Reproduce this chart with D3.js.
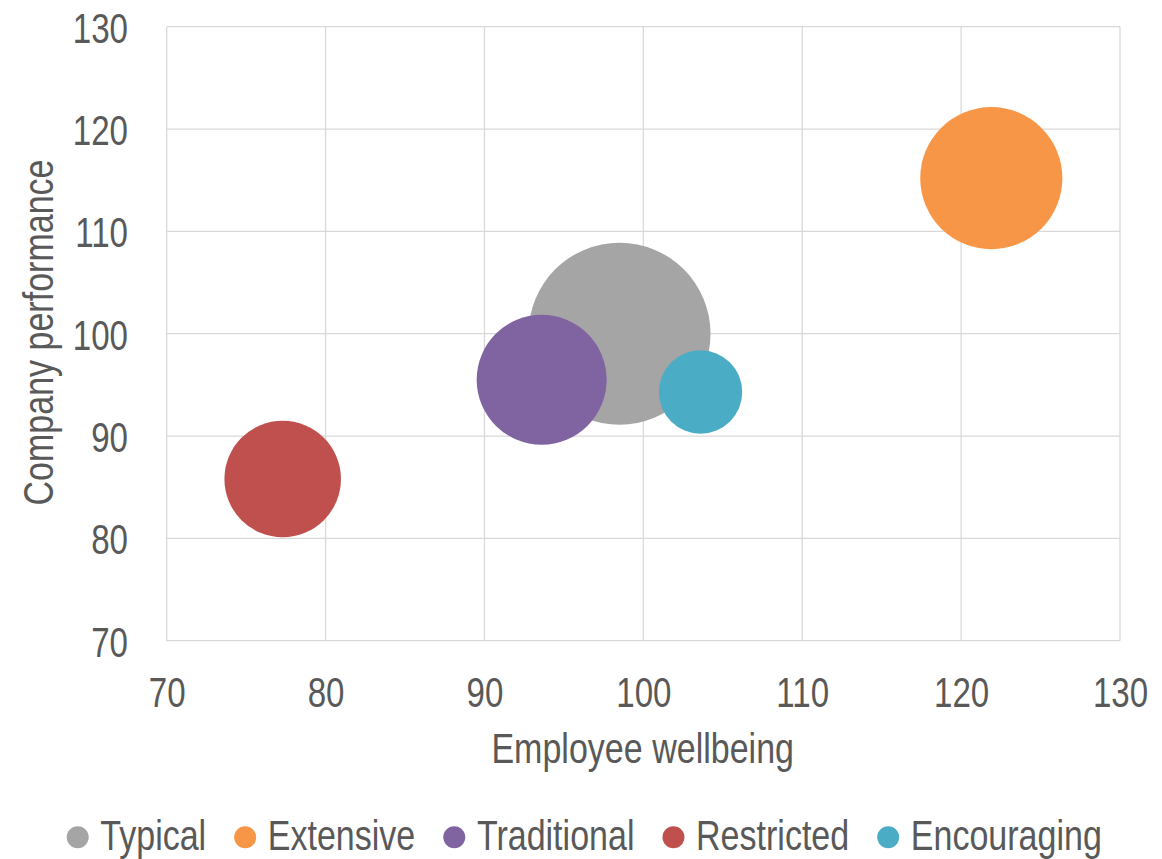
<!DOCTYPE html>
<html>
<head>
<meta charset="utf-8">
<script src="https://cdn.jsdelivr.net/npm/d3@7"></script>
<style>
  html, body { margin: 0; padding: 0; background: #fff; }
  svg { display: block; }
  text { font-family: "Liberation Sans Narrow", "Arial Narrow", "Liberation Sans", Arial, sans-serif; fill: #595959; }
</style>
</head>
<body>
<svg id="chart" width="1162" height="859"></svg>
<script>
// ---- data ----
const categories = ["Typical", "Extensive", "Traditional", "Restricted", "Encouraging"];
const wellbeing   = [98.5, 121.9, 93.6, 77.3, 103.6];
const performance = [100.0, 115.2, 95.5, 85.8, 94.3];
const bubbleSize  = [100, 61, 51, 41, 21];
const colors      = ["#A5A5A5", "#F79646", "#8064A2", "#C0504D", "#4BACC6"];
const xTicks = [70, 80, 90, 100, 110, 120, 130];
const yTicks = [70, 80, 90, 100, 110, 120, 130];
const xTitle = "Employee wellbeing";
const yTitle = "Company performance";

// ---- layout ----
const plot = { left: 166.7, right: 1120, top: 26.7, bottom: 640.7 };
const fontSize = 42, tickFont = 43;
const textSqueeze = 0.81, digitSqueeze = 0.77;

// condense text (narrow font substitute) while keeping it real text
function squeeze(sel, f) {
  sel.each(function () {
    const w = this.getComputedTextLength();
    d3.select(this).attr("textLength", w * f).attr("lengthAdjust", "spacingAndGlyphs");
  });
  return sel;
}

const svg = d3.select("#chart");
const x = d3.scaleLinear().domain([70, 130]).range([plot.left, plot.right]);
const y = d3.scaleLinear().domain([70, 130]).range([plot.bottom, plot.top]);
const r = d3.scaleSqrt().domain([0, 100]).range([0, 91]);

// gridlines
const grid = svg.append("g").attr("stroke", "#D9D9D9").attr("stroke-width", 1.3);
grid.selectAll("line.v").data(xTicks).join("line")
  .attr("x1", d => x(d)).attr("x2", d => x(d))
  .attr("y1", plot.top).attr("y2", plot.bottom);
grid.selectAll("line.h").data(yTicks).join("line")
  .attr("x1", plot.left).attr("x2", plot.right)
  .attr("y1", d => y(d)).attr("y2", d => y(d));

// axes
const xAxis = svg.append("g")
  .attr("transform", `translate(0,${plot.bottom})`)
  .call(d3.axisBottom(x).tickValues(xTicks).tickSize(0).tickPadding(0));
xAxis.select(".domain").remove();
xAxis.attr("font-family", null).attr("font-size", null);
squeeze(xAxis.selectAll("text")
  .attr("y", 66.6).attr("dy", 0)
  .style("font-size", tickFont + "px")
  .attr("fill", "#595959"), digitSqueeze);

const yAxis = svg.append("g")
  .attr("transform", `translate(${plot.left},0)`)
  .call(d3.axisLeft(y).tickValues(yTicks).tickSize(0).tickPadding(0));
yAxis.select(".domain").remove();
yAxis.attr("font-family", null).attr("font-size", null);
squeeze(yAxis.selectAll("text")
  .attr("x", -38.7).attr("dy", "0.36em")
  .style("font-size", tickFont + "px")
  .attr("fill", "#595959"), digitSqueeze);

// bubbles
const data = categories.map((c, i) => ({ c, x: wellbeing[i], y: performance[i], s: bubbleSize[i], col: colors[i] }));
svg.append("g").selectAll("circle").data(data).join("circle")
  .attr("cx", d => x(d.x))
  .attr("cy", d => y(d.y))
  .attr("r", d => r(d.s))
  .attr("fill", d => d.col);

// axis titles
squeeze(svg.append("text")
  .attr("x", 642.7)
  .attr("y", 763)
  .attr("text-anchor", "middle")
  .style("font-size", fontSize + "px")
  .text(xTitle), textSqueeze);

squeeze(svg.append("text")
  .attr("transform", `translate(53,332.5) rotate(-90)`)
  .attr("text-anchor", "middle")
  .style("font-size", fontSize + "px")
  .text(yTitle), textSqueeze);

// legend
const legend = svg.append("g");
let cx = 77.7;
const ly = 837.3;
categories.forEach((c, i) => {
  legend.append("circle").attr("cx", cx).attr("cy", ly).attr("r", 11).attr("fill", colors[i]);
  const t = legend.append("text")
    .attr("x", cx + 22.6).attr("y", 850)
    .style("font-size", fontSize + "px")
    .text(c);
  const w = t.node().getComputedTextLength() * textSqueeze;
  t.attr("textLength", w).attr("lengthAdjust", "spacingAndGlyphs");
  cx = cx + 22.6 + w + 39;
});
</script>
</body>
</html>
